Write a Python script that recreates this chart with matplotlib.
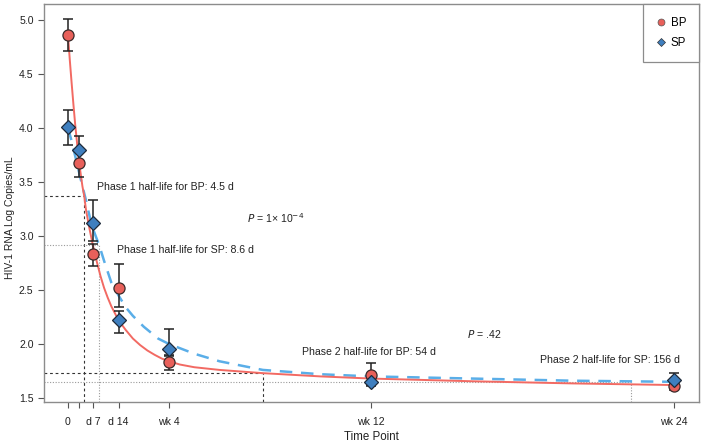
import matplotlib
matplotlib.use("Agg")
import matplotlib.pyplot as plt

plt.rcParams['font.family'] = ['Liberation Sans', 'DejaVu Sans']

# ---- data ----
days = [0, 3, 7, 14, 28, 84, 168]
tick_labels = ['0', '', 'd 7', 'd 14', 'wk 4', 'wk 12', 'wk 24']

bp_mean = [4.86, 3.68, 2.83, 2.52, 1.83, 1.71, 1.61]
bp_low = [4.71, 3.55, 2.72, 2.34, 1.76, 1.62, 1.57]
bp_high = [5.01, 3.81, 2.93, 2.74, 1.90, 1.82, 1.66]

sp_mean = [4.01, 3.80, 3.12, 2.22, 1.95, 1.65, 1.67]
sp_low = [3.84, 3.67, 2.95, 2.10, 1.89, 1.61, 1.62]
sp_high = [4.17, 3.93, 3.33, 2.31, 2.14, 1.70, 1.73]

# fitted curves
bp_curve_t = [0, 0.5, 1, 1.5, 2, 3, 4, 4.5, 5, 6, 7, 8, 9, 10, 11, 12, 14, 16, 18,
              20, 22, 24, 26, 28, 31, 35, 42, 48, 54, 70, 84, 112, 140, 168]
bp_curve_v = [4.86, 4.63, 4.42, 4.22, 4.03, 3.70, 3.46, 3.37, 3.24, 3.06, 2.90, 2.76,
              2.63, 2.52, 2.43, 2.35, 2.22, 2.13, 2.05, 1.99, 1.94, 1.90, 1.865, 1.84,
              1.81, 1.785, 1.76, 1.745, 1.73, 1.70, 1.68, 1.655, 1.635, 1.62]

sp_curve_t = [0, 1, 2, 3, 4, 5, 6, 7, 8, 8.6, 10, 12, 14, 16, 18, 21, 25, 28, 35, 42,
              54, 70, 84, 112, 140, 168]
sp_curve_v = [4.00, 3.88, 3.74, 3.60, 3.46, 3.33, 3.18, 3.06, 2.97, 2.92, 2.77, 2.57,
              2.45, 2.34, 2.26, 2.16, 2.05, 2.00, 1.91, 1.84, 1.76, 1.72, 1.70, 1.68,
              1.66, 1.65]

# half-life reference points (day, value)
bp_hl1 = (4.5, 3.37)
sp_hl1 = (8.6, 2.92)
bp_hl2 = (54, 1.73)
sp_hl2 = (156, 1.65)

red = '#e8605a'
red_line = '#f26a63'
blue = '#3f7fbf'
blue_line = '#5aaee8'
frame = '#8c8c8c'

fig = plt.figure(figsize=(7.14, 4.43), dpi=100)
ax = fig.add_axes([44/714, 1-402/443, (699-44)/714, (402-4)/443])

xmin, xmax = -6.65, 174.9
ymin, ymax = 1.463, 5.148
ax.set_xlim(xmin, xmax)
ax.set_ylim(ymin, ymax)

# reference lines
def ref(pt, style):
    d, v = pt
    if style == 'dash':
        kw = dict(color='#333333', lw=0.8, ls=(0, (2.5, 2.5)))
    else:
        kw = dict(color='#9a9a9a', lw=0.8, ls=(0, (1, 1.5)))
    ax.plot([xmin, d], [v, v], **kw, zorder=1)
    ax.plot([d, d], [ymin, v], **kw, zorder=1)

ref(bp_hl1, 'dash')
ref(sp_hl1, 'dot')
ref(bp_hl2, 'dash')
ref(sp_hl2, 'dot')

# curves
ax.plot(sp_curve_t, sp_curve_v, color=blue_line, lw=1.8, ls=(0, (5, 3.5)), zorder=2)
ax.plot(bp_curve_t, bp_curve_v, color=red_line, lw=1.4, zorder=2)

# error bars
for m, lo, hi in [(bp_mean, bp_low, bp_high), (sp_mean, sp_low, sp_high)]:
    yerr = [[a - b for a, b in zip(m, lo)], [b - a for a, b in zip(m, hi)]]
    ax.errorbar(days, m, yerr=yerr, fmt='none', ecolor='#222222', elinewidth=1.1,
                capsize=3.5, capthick=1.1, zorder=3)

ax.plot(days, bp_mean, 'o', ms=8, mfc=red, mec='#3a2a2a', mew=0.9, ls='none', zorder=4)
ax.plot(days, sp_mean, 'D', ms=7.5, mfc=blue, mec='#1e2a3a', mew=0.9, ls='none', zorder=5)

# legend
h1, = ax.plot([], [], 'o', ms=5, mfc=red, mec='#555555', mew=0.5, ls='none')
h2, = ax.plot([], [], 'D', ms=4.5, mfc=blue, mec='#333333', mew=0.5, ls='none')
leg = ax.legend([h1, h2], ['BP', 'SP'], loc='upper right', borderaxespad=0,
                fancybox=False, edgecolor=frame, fontsize=8.3, handlelength=1.0,
                handletextpad=0.35, borderpad=1.1, labelspacing=0.75, framealpha=1)
leg.get_frame().set_linewidth(0.9)

# annotations
fs = 7.6
tc = '#222222'
ax.text(8.0, 3.454, 'Phase 1 half-life for BP: 4.5 d', fontsize=fs, va='center', color=tc)
ax.text(13.6, 2.87, 'Phase 1 half-life for SP: 8.6 d', fontsize=fs, va='center', color=tc)
ax.text(64.9, 1.926, 'Phase 2 half-life for BP: 54 d', fontsize=fs, va='center', color=tc)
ax.text(130.9, 1.852, 'Phase 2 half-life for SP: 156 d', fontsize=fs, va='center', color=tc)
ax.text(49.6, 3.167, r'$\it{P}$ = 1× 10$^{-4}$', fontsize=fs, va='center', color=tc)
ax.text(110.6, 2.093, r'$\it{P}$ = .42', fontsize=fs, va='center', color=tc)

# axes styling
for s in ax.spines.values():
    s.set_color(frame)
    s.set_linewidth(1.0)
ax.set_xticks(days)
ax.set_xticklabels(tick_labels)
ax.set_yticks([1.5, 2.0, 2.5, 3.0, 3.5, 4.0, 4.5, 5.0])
ax.set_yticklabels(['1.5', '2.0', '2.5', '3.0', '3.5', '4.0', '4.5', '5.0'])
ax.tick_params(axis='both', labelsize=7.6, colors='#555555', labelcolor=tc,
               length=4, width=0.8)
ax.tick_params(axis='x', pad=7)
ax.set_xlabel('Time Point', fontsize=8.3, color=tc, labelpad=3)
fig.text(10/714, 1-218/443, 'HIV-1 RNA Log Copies/mL', rotation=90, fontsize=7.5,
         color=tc, ha='center', va='center')

fig.savefig('out.png', dpi=100)
